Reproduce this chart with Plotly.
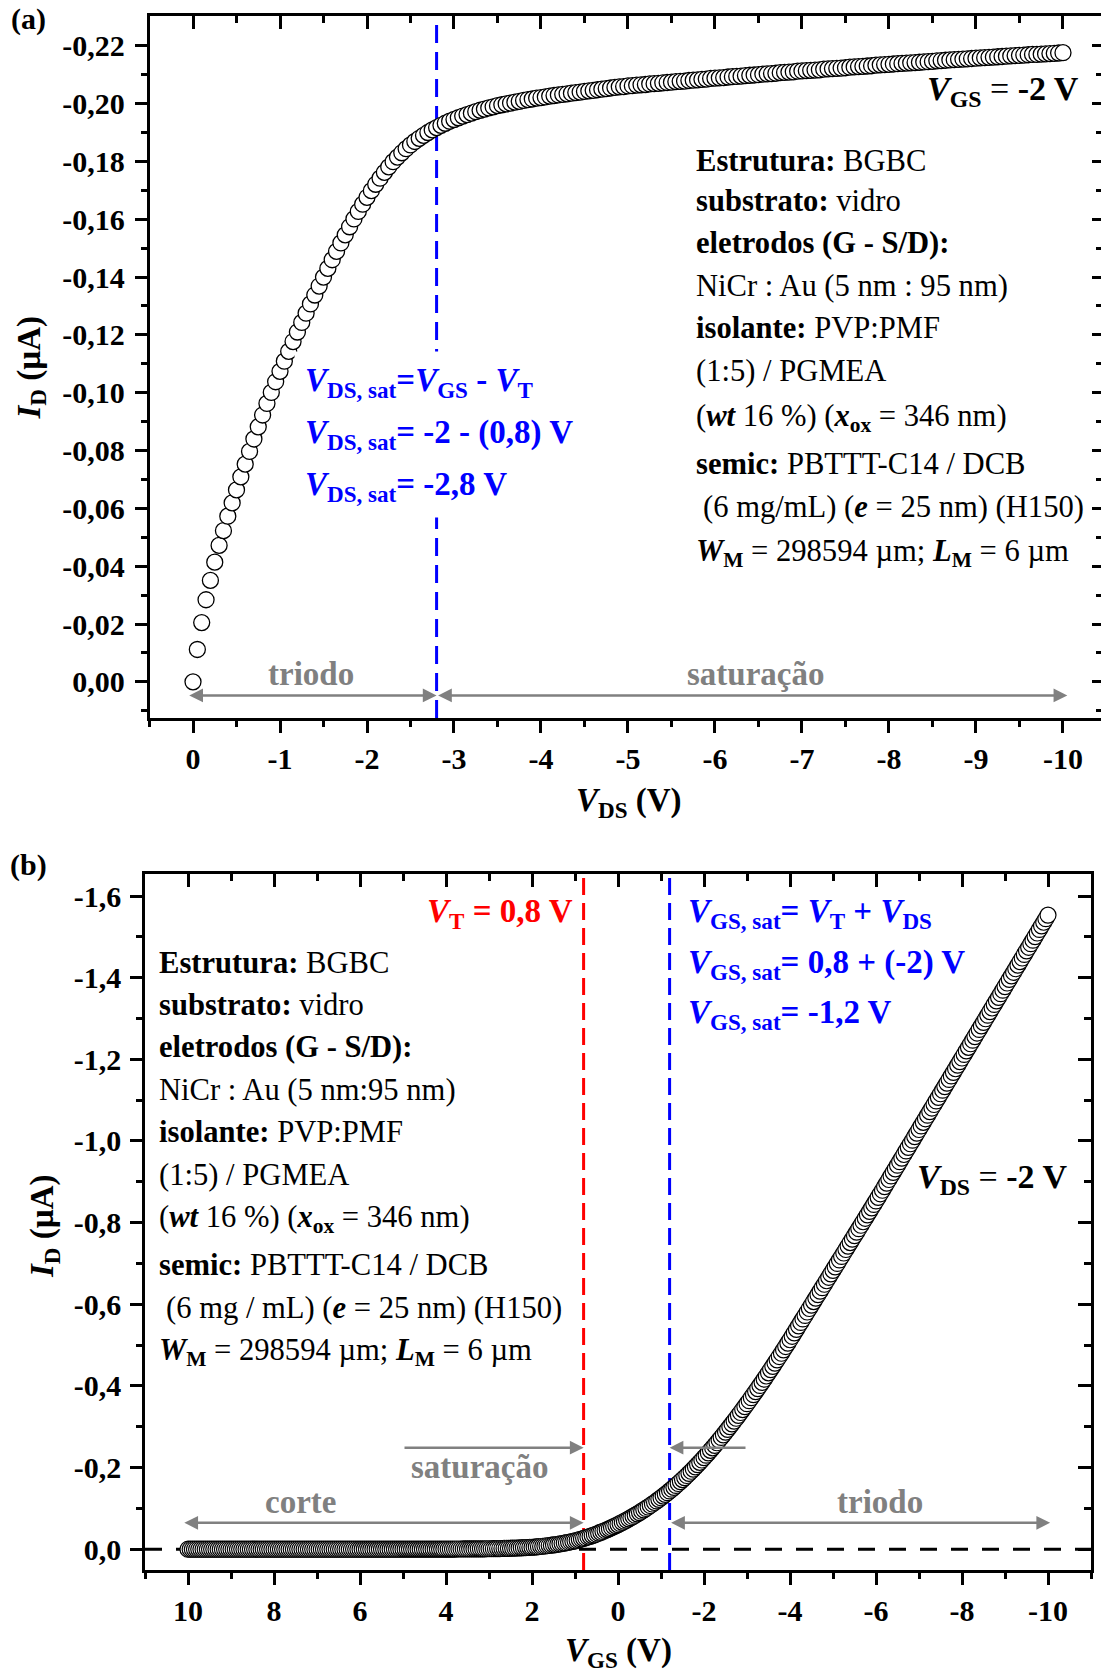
import plotly.graph_objects as go

W, H = 1101, 1672
FONT = "Liberation Serif"

# ---------------- (a) output curve, V_GS = -2 V ----------------
VDS_A = [
    0.00, -0.05, -0.10, -0.15, -0.20, -0.25, -0.30, -0.35, -0.40, -0.45, -0.50, -0.55, -0.60, -0.65, -0.70, -0.75, -0.80, -0.85, -0.90, -0.95,
    -1.00, -1.05, -1.10, -1.15, -1.20, -1.25, -1.30, -1.35, -1.40, -1.45, -1.50, -1.55, -1.60, -1.65, -1.70, -1.75, -1.80, -1.85, -1.90, -1.95,
    -2.00, -2.05, -2.10, -2.15, -2.20, -2.25, -2.30, -2.35, -2.40, -2.45, -2.50, -2.55, -2.60, -2.65, -2.70, -2.75, -2.80, -2.85, -2.90, -2.95,
    -3.00, -3.05, -3.10, -3.15, -3.20, -3.25, -3.30, -3.35, -3.40, -3.45, -3.50, -3.55, -3.60, -3.65, -3.70, -3.75, -3.80, -3.85, -3.90, -3.95,
    -4.00, -4.05, -4.10, -4.15, -4.20, -4.25, -4.30, -4.35, -4.40, -4.45, -4.50, -4.55, -4.60, -4.65, -4.70, -4.75, -4.80, -4.85, -4.90, -4.95,
    -5.00, -5.05, -5.10, -5.15, -5.20, -5.25, -5.30, -5.35, -5.40, -5.45, -5.50, -5.55, -5.60, -5.65, -5.70, -5.75, -5.80, -5.85, -5.90, -5.95,
    -6.00, -6.05, -6.10, -6.15, -6.20, -6.25, -6.30, -6.35, -6.40, -6.45, -6.50, -6.55, -6.60, -6.65, -6.70, -6.75, -6.80, -6.85, -6.90, -6.95,
    -7.00, -7.05, -7.10, -7.15, -7.20, -7.25, -7.30, -7.35, -7.40, -7.45, -7.50, -7.55, -7.60, -7.65, -7.70, -7.75, -7.80, -7.85, -7.90, -7.95,
    -8.00, -8.05, -8.10, -8.15, -8.20, -8.25, -8.30, -8.35, -8.40, -8.45, -8.50, -8.55, -8.60, -8.65, -8.70, -8.75, -8.80, -8.85, -8.90, -8.95,
    -9.00, -9.05, -9.10, -9.15, -9.20, -9.25, -9.30, -9.35, -9.40, -9.45, -9.50, -9.55, -9.60, -9.65, -9.70, -9.75, -9.80, -9.85, -9.90, -9.95,
    -10.00,
]
ID_A = [
    0.0000, -0.0112, -0.0205, -0.0284, -0.0351, -0.0414, -0.0472, -0.0523, -0.0573, -0.0619, -0.0664, -0.0709, -0.0753, -0.0797, -0.0840, -0.0882, -0.0923, -0.0963, -0.1001, -0.1038,
    -0.1074, -0.1109, -0.1143, -0.1177, -0.1210, -0.1243, -0.1275, -0.1307, -0.1338, -0.1369, -0.1400, -0.1430, -0.1460, -0.1489, -0.1518, -0.1546, -0.1574, -0.1601, -0.1627, -0.1652,
    -0.1676, -0.1699, -0.1721, -0.1742, -0.1762, -0.1781, -0.1799, -0.1815, -0.1830, -0.1844, -0.1857, -0.1869, -0.1880, -0.1890, -0.1900, -0.1909, -0.1917, -0.1925, -0.1932, -0.1939,
    -0.1945, -0.1951, -0.1957, -0.1962, -0.1967, -0.1972, -0.1977, -0.1981, -0.1985, -0.1989, -0.1993, -0.1996, -0.1999, -0.2002, -0.2005, -0.2008, -0.2011, -0.2014, -0.2016, -0.2019,
    -0.2021, -0.2023, -0.2026, -0.2028, -0.2030, -0.2032, -0.2034, -0.2036, -0.2038, -0.2040, -0.2042, -0.2044, -0.2046, -0.2048, -0.2050, -0.2052, -0.2054, -0.2056, -0.2058, -0.2059,
    -0.2061, -0.2062, -0.2064, -0.2065, -0.2066, -0.2068, -0.2069, -0.2070, -0.2072, -0.2073, -0.2074, -0.2076, -0.2077, -0.2078, -0.2080, -0.2081, -0.2082, -0.2084, -0.2085, -0.2087,
    -0.2088, -0.2089, -0.2090, -0.2092, -0.2093, -0.2094, -0.2095, -0.2097, -0.2098, -0.2099, -0.2100, -0.2102, -0.2103, -0.2104, -0.2105, -0.2107, -0.2108, -0.2109, -0.2110, -0.2112,
    -0.2113, -0.2114, -0.2115, -0.2116, -0.2117, -0.2119, -0.2120, -0.2121, -0.2122, -0.2123, -0.2124, -0.2126, -0.2127, -0.2128, -0.2129, -0.2130, -0.2131, -0.2133, -0.2134, -0.2135,
    -0.2136, -0.2137, -0.2138, -0.2139, -0.2140, -0.2141, -0.2142, -0.2143, -0.2144, -0.2145, -0.2146, -0.2148, -0.2149, -0.2150, -0.2151, -0.2152, -0.2153, -0.2154, -0.2155, -0.2156,
    -0.2157, -0.2158, -0.2159, -0.2160, -0.2161, -0.2162, -0.2163, -0.2164, -0.2165, -0.2166, -0.2167, -0.2168, -0.2169, -0.2170, -0.2170, -0.2171, -0.2172, -0.2173, -0.2174, -0.2175,
    -0.2176,
]
VDS_SAT = -2.8

# ---------------- (b) transfer curve, V_DS = -2 V ----------------
VGS_B = [
    10.00, 9.95, 9.90, 9.85, 9.80, 9.75, 9.70, 9.65, 9.60, 9.55, 9.50, 9.45, 9.40, 9.35, 9.30, 9.25, 9.20, 9.15, 9.10, 9.05,
    9.00, 8.95, 8.90, 8.85, 8.80, 8.75, 8.70, 8.65, 8.60, 8.55, 8.50, 8.45, 8.40, 8.35, 8.30, 8.25, 8.20, 8.15, 8.10, 8.05,
    8.00, 7.95, 7.90, 7.85, 7.80, 7.75, 7.70, 7.65, 7.60, 7.55, 7.50, 7.45, 7.40, 7.35, 7.30, 7.25, 7.20, 7.15, 7.10, 7.05,
    7.00, 6.95, 6.90, 6.85, 6.80, 6.75, 6.70, 6.65, 6.60, 6.55, 6.50, 6.45, 6.40, 6.35, 6.30, 6.25, 6.20, 6.15, 6.10, 6.05,
    6.00, 5.95, 5.90, 5.85, 5.80, 5.75, 5.70, 5.65, 5.60, 5.55, 5.50, 5.45, 5.40, 5.35, 5.30, 5.25, 5.20, 5.15, 5.10, 5.05,
    5.00, 4.95, 4.90, 4.85, 4.80, 4.75, 4.70, 4.65, 4.60, 4.55, 4.50, 4.45, 4.40, 4.35, 4.30, 4.25, 4.20, 4.15, 4.10, 4.05,
    4.00, 3.95, 3.90, 3.85, 3.80, 3.75, 3.70, 3.65, 3.60, 3.55, 3.50, 3.45, 3.40, 3.35, 3.30, 3.25, 3.20, 3.15, 3.10, 3.05,
    3.00, 2.95, 2.90, 2.85, 2.80, 2.75, 2.70, 2.65, 2.60, 2.55, 2.50, 2.45, 2.40, 2.35, 2.30, 2.25, 2.20, 2.15, 2.10, 2.05,
    2.00, 1.95, 1.90, 1.85, 1.80, 1.75, 1.70, 1.65, 1.60, 1.55, 1.50, 1.45, 1.40, 1.35, 1.30, 1.25, 1.20, 1.15, 1.10, 1.05,
    1.00, 0.95, 0.90, 0.85, 0.80, 0.75, 0.70, 0.65, 0.60, 0.55, 0.50, 0.45, 0.40, 0.35, 0.30, 0.25, 0.20, 0.15, 0.10, 0.05,
    0.00, -0.05, -0.10, -0.15, -0.20, -0.25, -0.30, -0.35, -0.40, -0.45, -0.50, -0.55, -0.60, -0.65, -0.70, -0.75, -0.80, -0.85, -0.90, -0.95,
    -1.00, -1.05, -1.10, -1.15, -1.20, -1.25, -1.30, -1.35, -1.40, -1.45, -1.50, -1.55, -1.60, -1.65, -1.70, -1.75, -1.80, -1.85, -1.90, -1.95,
    -2.00, -2.05, -2.10, -2.15, -2.20, -2.25, -2.30, -2.35, -2.40, -2.45, -2.50, -2.55, -2.60, -2.65, -2.70, -2.75, -2.80, -2.85, -2.90, -2.95,
    -3.00, -3.05, -3.10, -3.15, -3.20, -3.25, -3.30, -3.35, -3.40, -3.45, -3.50, -3.55, -3.60, -3.65, -3.70, -3.75, -3.80, -3.85, -3.90, -3.95,
    -4.00, -4.05, -4.10, -4.15, -4.20, -4.25, -4.30, -4.35, -4.40, -4.45, -4.50, -4.55, -4.60, -4.65, -4.70, -4.75, -4.80, -4.85, -4.90, -4.95,
    -5.00, -5.05, -5.10, -5.15, -5.20, -5.25, -5.30, -5.35, -5.40, -5.45, -5.50, -5.55, -5.60, -5.65, -5.70, -5.75, -5.80, -5.85, -5.90, -5.95,
    -6.00, -6.05, -6.10, -6.15, -6.20, -6.25, -6.30, -6.35, -6.40, -6.45, -6.50, -6.55, -6.60, -6.65, -6.70, -6.75, -6.80, -6.85, -6.90, -6.95,
    -7.00, -7.05, -7.10, -7.15, -7.20, -7.25, -7.30, -7.35, -7.40, -7.45, -7.50, -7.55, -7.60, -7.65, -7.70, -7.75, -7.80, -7.85, -7.90, -7.95,
    -8.00, -8.05, -8.10, -8.15, -8.20, -8.25, -8.30, -8.35, -8.40, -8.45, -8.50, -8.55, -8.60, -8.65, -8.70, -8.75, -8.80, -8.85, -8.90, -8.95,
    -9.00, -9.05, -9.10, -9.15, -9.20, -9.25, -9.30, -9.35, -9.40, -9.45, -9.50, -9.55, -9.60, -9.65, -9.70, -9.75, -9.80, -9.85, -9.90, -9.95,
    -10.00,
]
ID_B = [
    -0.0002, -0.0002, -0.0002, -0.0002, -0.0002, -0.0002, -0.0002, -0.0002, -0.0002, -0.0002, -0.0002, -0.0002, -0.0002, -0.0002, -0.0002, -0.0002, -0.0002, -0.0002, -0.0002, -0.0002,
    -0.0002, -0.0002, -0.0002, -0.0002, -0.0002, -0.0002, -0.0002, -0.0002, -0.0002, -0.0002, -0.0002, -0.0002, -0.0002, -0.0002, -0.0002, -0.0002, -0.0002, -0.0002, -0.0002, -0.0002,
    -0.0002, -0.0002, -0.0002, -0.0002, -0.0002, -0.0002, -0.0002, -0.0002, -0.0002, -0.0002, -0.0002, -0.0002, -0.0002, -0.0002, -0.0002, -0.0002, -0.0002, -0.0002, -0.0002, -0.0002,
    -0.0002, -0.0002, -0.0002, -0.0002, -0.0002, -0.0002, -0.0002, -0.0002, -0.0002, -0.0002, -0.0002, -0.0002, -0.0002, -0.0002, -0.0002, -0.0002, -0.0002, -0.0002, -0.0002, -0.0002,
    -0.0003, -0.0003, -0.0003, -0.0003, -0.0003, -0.0003, -0.0003, -0.0003, -0.0003, -0.0003, -0.0003, -0.0003, -0.0003, -0.0003, -0.0003, -0.0003, -0.0003, -0.0003, -0.0003, -0.0003,
    -0.0004, -0.0004, -0.0004, -0.0004, -0.0004, -0.0004, -0.0004, -0.0004, -0.0004, -0.0004, -0.0004, -0.0004, -0.0004, -0.0004, -0.0004, -0.0004, -0.0004, -0.0004, -0.0004, -0.0004,
    -0.0005, -0.0005, -0.0006, -0.0006, -0.0006, -0.0007, -0.0007, -0.0007, -0.0008, -0.0008, -0.0008, -0.0009, -0.0009, -0.0010, -0.0010, -0.0011, -0.0011, -0.0012, -0.0012, -0.0013,
    -0.0013, -0.0014, -0.0015, -0.0016, -0.0017, -0.0018, -0.0020, -0.0021, -0.0023, -0.0024, -0.0026, -0.0028, -0.0030, -0.0032, -0.0034, -0.0036, -0.0039, -0.0041, -0.0044, -0.0047,
    -0.0050, -0.0054, -0.0059, -0.0064, -0.0069, -0.0075, -0.0081, -0.0087, -0.0093, -0.0100, -0.0108, -0.0116, -0.0124, -0.0133, -0.0142, -0.0152, -0.0162, -0.0173, -0.0184, -0.0196,
    -0.0208, -0.0222, -0.0237, -0.0252, -0.0268, -0.0284, -0.0301, -0.0318, -0.0336, -0.0355, -0.0374, -0.0395, -0.0416, -0.0438, -0.0460, -0.0483, -0.0506, -0.0530, -0.0555, -0.0580,
    -0.0606, -0.0633, -0.0660, -0.0688, -0.0716, -0.0745, -0.0775, -0.0805, -0.0836, -0.0868, -0.0900, -0.0933, -0.0967, -0.1001, -0.1036, -0.1072, -0.1109, -0.1146, -0.1184, -0.1223,
    -0.1262, -0.1303, -0.1344, -0.1386, -0.1429, -0.1473, -0.1518, -0.1564, -0.1611, -0.1659, -0.1707, -0.1757, -0.1807, -0.1859, -0.1911, -0.1965, -0.2019, -0.2074, -0.2130, -0.2187,
    -0.2245, -0.2304, -0.2363, -0.2424, -0.2485, -0.2547, -0.2610, -0.2674, -0.2739, -0.2804, -0.2870, -0.2937, -0.3004, -0.3072, -0.3141, -0.3210, -0.3280, -0.3351, -0.3422, -0.3494,
    -0.3566, -0.3639, -0.3713, -0.3787, -0.3862, -0.3937, -0.4013, -0.4089, -0.4166, -0.4244, -0.4322, -0.4401, -0.4480, -0.4560, -0.4640, -0.4721, -0.4802, -0.4884, -0.4966, -0.5049,
    -0.5132, -0.5217, -0.5302, -0.5387, -0.5472, -0.5557, -0.5642, -0.5727, -0.5812, -0.5897, -0.5982, -0.6067, -0.6152, -0.6237, -0.6322, -0.6407, -0.6492, -0.6577, -0.6662, -0.6747,
    -0.6832, -0.6917, -0.7002, -0.7087, -0.7172, -0.7257, -0.7342, -0.7427, -0.7512, -0.7597, -0.7682, -0.7767, -0.7852, -0.7937, -0.8022, -0.8107, -0.8192, -0.8277, -0.8362, -0.8447,
    -0.8532, -0.8619, -0.8707, -0.8794, -0.8882, -0.8969, -0.9057, -0.9144, -0.9232, -0.9319, -0.9407, -0.9494, -0.9582, -0.9669, -0.9757, -0.9844, -0.9932, -1.0019, -1.0107, -1.0194,
    -1.0282, -1.0369, -1.0457, -1.0544, -1.0632, -1.0719, -1.0807, -1.0894, -1.0982, -1.1069, -1.1157, -1.1244, -1.1332, -1.1419, -1.1507, -1.1594, -1.1682, -1.1769, -1.1857, -1.1944,
    -1.2032, -1.2119, -1.2207, -1.2294, -1.2382, -1.2469, -1.2557, -1.2644, -1.2732, -1.2819, -1.2907, -1.2994, -1.3082, -1.3169, -1.3257, -1.3344, -1.3432, -1.3519, -1.3607, -1.3694,
    -1.3782, -1.3869, -1.3957, -1.4044, -1.4132, -1.4219, -1.4307, -1.4394, -1.4482, -1.4569, -1.4657, -1.4744, -1.4832, -1.4919, -1.5007, -1.5094, -1.5182, -1.5269, -1.5357, -1.5444,
    -1.5532,
]
VT = 0.8
VGS_SAT = -1.2

# ---------------- ticks ----------------
A_XTICKS = [0, -1, -2, -3, -4, -5, -6, -7, -8, -9, -10]
A_XTICKTEXT = ["0", "-1", "-2", "-3", "-4", "-5", "-6", "-7", "-8", "-9", "-10"]
A_XMINOR = [0.5, -0.5, -1.5, -2.5, -3.5, -4.5, -5.5, -6.5, -7.5, -8.5, -9.5]
A_YTICKS = [0.0, -0.02, -0.04, -0.06, -0.08, -0.10, -0.12, -0.14, -0.16, -0.18, -0.20, -0.22]
A_YTICKTEXT = ["0,00", "-0,02", "-0,04", "-0,06", "-0,08", "-0,10", "-0,12", "-0,14",
               "-0,16", "-0,18", "-0,20", "-0,22"]
A_YMINOR = [0.01, -0.01, -0.03, -0.05, -0.07, -0.09, -0.11, -0.13, -0.15, -0.17, -0.19, -0.21]

B_XTICKS = [10, 8, 6, 4, 2, 0, -2, -4, -6, -8, -10]
B_XTICKTEXT = ["10", "8", "6", "4", "2", "0", "-2", "-4", "-6", "-8", "-10"]
B_XMINOR = [11, 9, 7, 5, 3, 1, -1, -3, -5, -7, -9, -11]
B_YTICKS = [0.0, -0.2, -0.4, -0.6, -0.8, -1.0, -1.2, -1.4, -1.6]
B_YTICKTEXT = ["0,0", "-0,2", "-0,4", "-0,6", "-0,8", "-1,0", "-1,2", "-1,4", "-1,6"]
B_YMINOR = [-0.1, -0.3, -0.5, -0.7, -0.9, -1.1, -1.3, -1.5]

# ---------------- text blocks ----------------
INFO_A = [
    "<b>Estrutura:</b> BGBC",
    "<b>substrato:</b> vidro",
    "<b>eletrodos (G - S/D):</b>",
    "NiCr : Au (5 nm : 95 nm)",
    "<b>isolante:</b> PVP:PMF",
    "(1:5) / PGMEA",
    "(<b><i>wt</i></b> 16 %) (<b><i>x</i><sub>ox</sub></b> = 346 nm)",
    "<b>semic:</b> PBTTT-C14 / DCB",
    "(6 mg/mL) (<b><i>e</i></b> = 25 nm) (H150)",
    "<b><i>W</i><sub>M</sub></b> = 298594 µm; <b><i>L</i><sub>M</sub></b> = 6 µm",
]
INFO_B = [
    "<b>Estrutura:</b> BGBC",
    "<b>substrato:</b> vidro",
    "<b>eletrodos (G - S/D):</b>",
    "NiCr : Au (5 nm:95 nm)",
    "<b>isolante:</b> PVP:PMF",
    "(1:5) / PGMEA",
    "(<b><i>wt</i></b> 16 %) (<b><i>x</i><sub>ox</sub></b> = 346 nm)",
    "<b>semic:</b> PBTTT-C14 / DCB",
    "(6 mg / mL) (<b><i>e</i></b> = 25 nm) (H150)",
    "<b><i>W</i><sub>M</sub></b> = 298594 µm; <b><i>L</i><sub>M</sub></b> = 6 µm",
]
SAT_A = [
    "<b><i>V</i><sub>DS, sat</sub>=<i>V</i><sub>GS</sub> - <i>V</i><sub>T</sub></b>",
    "<b><i>V</i><sub>DS, sat</sub>= -2 - (0,8) V</b>",
    "<b><i>V</i><sub>DS, sat</sub>= -2,8 V</b>",
]
SAT_B = [
    "<b><i>V</i><sub>GS, sat</sub>= <i>V</i><sub>T</sub> + <i>V</i><sub>DS</sub></b>",
    "<b><i>V</i><sub>GS, sat</sub>= 0,8 + (-2) V</b>",
    "<b><i>V</i><sub>GS, sat</sub>= -1,2 V</b>",
]


def fx(px):
    return px / W


def fy(py):
    return 1 - py / H


BLUE, RED, GREY = "#0000FF", "#FF0000", "#808080"
TICKFONT = dict(family=FONT, size=30, color="black", weight="bold")


def base_axis(**kw):
    d = dict(showline=True, linecolor="black", linewidth=2.5, mirror=False,
             ticks="outside", ticklen=12, tickwidth=2.5, tickcolor="black",
             showgrid=False, zeroline=False, tickfont=TICKFONT, tickmode="array",
             automargin=False, fixedrange=True)
    d.update(kw)
    return d


def minor(vals, ticks="outside", ln=6):
    return dict(tickmode="array", tickvals=vals, ticks=ticks, ticklen=ln,
                tickwidth=2.5, tickcolor="black", showgrid=False)


A_XDOM = [fx(149.5), 1.0]
A_YDOM = [fy(718), fy(16)]
B_XDOM = [fx(145), fx(1091)]
B_YDOM = [fy(1570), fy(874)]
A_XR = [0.5, -10.437]
A_YR = [0.0125, -0.2303]
B_XR = [11, -11]
B_YR = [0.0507, -1.6539]

fig = go.Figure()
marker_a = dict(symbol="circle", size=16, color="white", line=dict(color="black", width=1.3))
marker_b = dict(symbol="circle", size=16, color="white", line=dict(color="black", width=1.2))
fig.add_trace(go.Scatter(x=VDS_A, y=ID_A, mode="markers", marker=marker_a,
                         xaxis="x", yaxis="y", showlegend=False, hoverinfo="skip"))
fig.add_trace(go.Scatter(x=VGS_B, y=ID_B, mode="markers", marker=marker_b,
                         xaxis="x2", yaxis="y2", showlegend=False, hoverinfo="skip"))
# empty traces that carry the mirrored top/right axes
for xa, ya in [("x3", "y"), ("x", "y3"), ("x4", "y2"), ("x2", "y4")]:
    fig.add_trace(go.Scatter(x=[], y=[], xaxis=xa, yaxis=ya, showlegend=False, hoverinfo="skip"))

layout = dict(
    width=W, height=H, margin=dict(l=0, r=0, t=0, b=0, pad=0),
    paper_bgcolor="white", plot_bgcolor="white", showlegend=False,
    font=dict(family=FONT, color="black"),
    xaxis=base_axis(domain=A_XDOM, range=A_XR, anchor="y", tickvals=A_XTICKS,
                    ticktext=A_XTICKTEXT, minor=minor(A_XMINOR), ticklabelstandoff=0),
    yaxis=base_axis(domain=A_YDOM, range=A_YR, anchor="x", tickvals=A_YTICKS,
                    ticktext=A_YTICKTEXT, minor=minor(A_YMINOR), ticklabelstandoff=4),
    xaxis3=base_axis(domain=A_XDOM, range=A_XR, anchor="y", overlaying="x", side="top",
                     ticks="inside", ticklen=13, tickvals=A_XTICKS, showticklabels=False,
                     minor=minor(A_XMINOR, "inside", 7)),
    yaxis3=base_axis(domain=A_YDOM, range=A_YR, anchor="x", overlaying="y", side="right",
                     ticks="inside", ticklen=9, tickvals=A_YTICKS, showticklabels=False,
                     showline=False, minor=minor(A_YMINOR, "inside", 5)),
    xaxis2=base_axis(domain=B_XDOM, range=B_XR, anchor="y2", tickvals=B_XTICKS,
                     ticktext=B_XTICKTEXT, minor=minor(B_XMINOR), ticklabelstandoff=0),
    yaxis2=base_axis(domain=B_YDOM, range=B_YR, anchor="x2", tickvals=B_YTICKS,
                     ticktext=B_YTICKTEXT, minor=minor(B_YMINOR), ticklabelstandoff=3),
    xaxis4=base_axis(domain=B_XDOM, range=B_XR, anchor="y2", overlaying="x2", side="top",
                     ticks="inside", ticklen=13, tickvals=B_XTICKS, showticklabels=False,
                     minor=minor(B_XMINOR, "inside", 7)),
    yaxis4=base_axis(domain=B_YDOM, range=B_YR, anchor="x2", overlaying="y2", side="right",
                     ticks="inside", ticklen=13, tickvals=B_YTICKS, showticklabels=False,
                     minor=minor(B_YMINOR, "inside", 7)),
)
fig.update_layout(**layout)

# reference lines: V_DS,sat in (a); V_T, V_GS,sat and I_D = 0 in (b)
shapes = [
    dict(type="line", xref="x", yref="y domain", x0=VDS_SAT, x1=VDS_SAT, y0=0, y1=1,
         line=dict(color=BLUE, width=3, dash="18px,9px"), layer="below"),
    dict(type="line", xref="x2", yref="y2 domain", x0=VT, x1=VT, y0=0, y1=1,
         line=dict(color=RED, width=3, dash="17px,8px"), layer="below"),
    dict(type="line", xref="x2", yref="y2 domain", x0=VGS_SAT, x1=VGS_SAT, y0=0, y1=1,
         line=dict(color=BLUE, width=3, dash="17px,8px"), layer="below"),
    dict(type="line", xref="x2 domain", yref="y2", x0=0, x1=1, y0=0, y1=0,
         line=dict(color="black", width=3, dash="17px,14px"), layer="below"),
]
fig.update_layout(shapes=shapes)

ann = []


def arrow(x_tail, x_tip, y, xr, yr, both=True):
    ann.append(dict(x=x_tip, y=y, ax=x_tail, ay=y, xref=xr, yref=yr, axref=xr, ayref=yr,
                    text="", showarrow=True, arrowhead=2, arrowsize=1.1, arrowwidth=2.5,
                    arrowcolor=GREY, arrowside="end+start" if both else "end",
                    startarrowhead=2, startarrowsize=1.1, standoff=0, startstandoff=0))


def label(text, px, py, size, color="black", xanchor="left", bg=None, pad=1, angle=0):
    d = dict(text=text, x=fx(px), y=fy(py), xref="paper", yref="paper", showarrow=False,
             xanchor=xanchor, yanchor="middle", textangle=angle, borderpad=pad,
             font=dict(family=FONT, size=size, color=color))
    if bg:
        d["bgcolor"] = bg
    ann.append(d)


# region arrows
arrow(0.06, VDS_SAT, 0.0047, "x", "y")
arrow(VDS_SAT, -10.05, 0.0047, "x", "y")
arrow(10.12, VT, -0.065, "x2", "y2")
arrow(VGS_SAT, -10.05, -0.065, "x2", "y2")
arrow(5.0, VT, -0.249, "x2", "y2", both=False)
arrow(-3.0, VGS_SAT, -0.249, "x2", "y2", both=False)

# panel letters
label("<b>(a)</b>", 28, 19, 30, xanchor="center")
label("<b>(b)</b>", 28, 865, 30, xanchor="center")

# axis titles
label("<b><i>V</i><sub>DS</sub> (V)</b>", 629, 802, 33, xanchor="center")
label("<b><i>V</i><sub>GS</sub> (V)</b>", 618.5, 1652, 33, xanchor="center")
label("<b><i>I</i><sub>D</sub> (µA)</b>", 31, 367.5, 33, xanchor="center", angle=-90)
label("<b><i>I</i><sub>D</sub> (µA)</b>", 44, 1226, 33, xanchor="center", angle=-90)

# bias conditions
label("<b><i>V</i><sub>GS</sub></b> = <b>-2 V</b>", 1081, 91, 34, xanchor="right")
label("<b><i>V</i><sub>DS</sub></b> = <b>-2 V</b>", 1070, 1179, 34, xanchor="right")

# region names
label("<b>triodo</b>", 311, 674, 33, GREY, xanchor="center")
label("<b>saturação</b>", 755.7, 674, 33, GREY, xanchor="center")
label("<b>corte</b>", 300, 1502, 33, GREY, xanchor="center")
label("<b>triodo</b>", 879.6, 1502, 33, GREY, xanchor="center")
label("<b>saturação</b>", 479.7, 1467, 33, GREY, xanchor="center")

# saturation-voltage equations
for txt, yy in zip(SAT_A, [383, 434.5, 486]):
    label(txt, 294, yy, 33, BLUE, bg="white", pad=10)
for txt, yy in zip(SAT_B, [913.5, 964.5, 1014.5]):
    label(txt, 686, yy, 33, BLUE)
label("<b><i>V</i><sub>T</sub> = 0,8 V</b>", 575, 913.5, 33, RED, xanchor="right")

# device description blocks
A_ROWS = [161, 201, 243, 286, 328, 371, 418, 464, 507, 553]
B_ROWS = [963, 1005, 1047, 1090, 1132, 1175, 1219, 1265, 1308, 1352]
for i, (txt, yy) in enumerate(zip(INFO_A, A_ROWS)):
    label(txt, 694 + (7 if i == 8 else 0), yy, 30.6)
for i, (txt, yy) in enumerate(zip(INFO_B, B_ROWS)):
    label(txt, 157 + (7 if i == 8 else 0), yy, 30.6)

fig.update_layout(annotations=ann)
fig.write_html("out.html")
